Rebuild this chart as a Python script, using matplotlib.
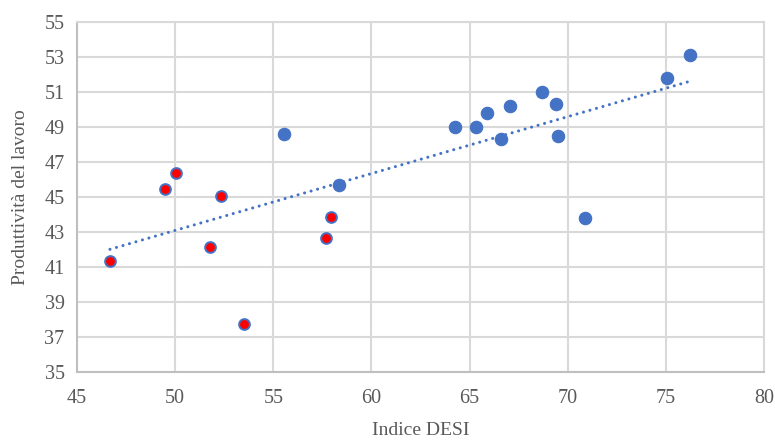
import numpy as np
import matplotlib
matplotlib.use("Agg")
from matplotlib import pyplot as plt

# countries shown in red (lower DESI group)
desi_red = [46.68, 49.47, 50.05, 52.36, 51.79, 53.51, 57.69, 57.95]
prod_red = [41.33, 45.47, 46.39, 45.07, 42.14, 37.75, 42.66, 43.86]

# other countries
desi_blue = [58.37, 55.55, 64.28, 65.32, 65.91, 66.60, 67.07, 68.70,
             69.38, 69.50, 70.89, 75.07, 76.24]
prod_blue = [45.68, 48.59, 48.98, 48.98, 49.80, 48.30, 50.18, 50.99,
             50.33, 48.46, 43.80, 51.79, 53.11]

x_ticks = [45, 50, 55, 60, 65, 70, 75, 80]
y_ticks = [35, 37, 39, 41, 43, 45, 47, 49, 51, 53, 55]

blue = "#4472C4"
grid_c = "#D9D9D9"
txt_c = "#595959"

plt.rcParams["font.family"] = ["Liberation Serif", "DejaVu Serif"]

fig = plt.figure(figsize=(7.75, 4.4), dpi=100)
ax = fig.add_axes([77 / 775, 68 / 440, 687 / 775, 350 / 440])

# linear trend over all points
all_x = np.array(desi_red + desi_blue)
all_y = np.array(prod_red + prod_blue)
k, b = np.polyfit(all_x, all_y, 1)
xs = np.array([all_x.min(), all_x.max()])
ax.plot(xs, k * xs + b, color=blue, lw=2.2, linestyle=(0, (0.01, 2.2)),
        dash_capstyle="round", zorder=2)

ax.scatter(desi_blue, prod_blue, s=80, color=blue, edgecolors=blue,
           linewidths=0.8, zorder=3)
ax.scatter(desi_red, prod_red, s=60, color="#FF0000", edgecolors=blue,
           linewidths=1.4, zorder=3)

ax.set_xlim(45, 80)
ax.set_ylim(35, 55)
ax.set_xticks(x_ticks)
ax.set_yticks(y_ticks)
ax.grid(True, color=grid_c, lw=1.5, zorder=0)
ax.set_axisbelow(True)
for sp in ax.spines.values():
    sp.set_color(grid_c)
    sp.set_linewidth(1.5)
ax.spines["left"].set_color("#BFBFBF")
ax.spines["bottom"].set_color("#BFBFBF")
ax.tick_params(length=0, labelsize=14.5, labelcolor=txt_c)
ax.tick_params(axis="x", pad=12)
ax.tick_params(axis="y", pad=9)

ax.set_xlabel("Indice DESI", fontsize=14, color=txt_c, labelpad=10)
ax.set_ylabel("Produttività del lavoro", fontsize=14, color=txt_c, labelpad=11)

fig.savefig("out.png", dpi=100)
